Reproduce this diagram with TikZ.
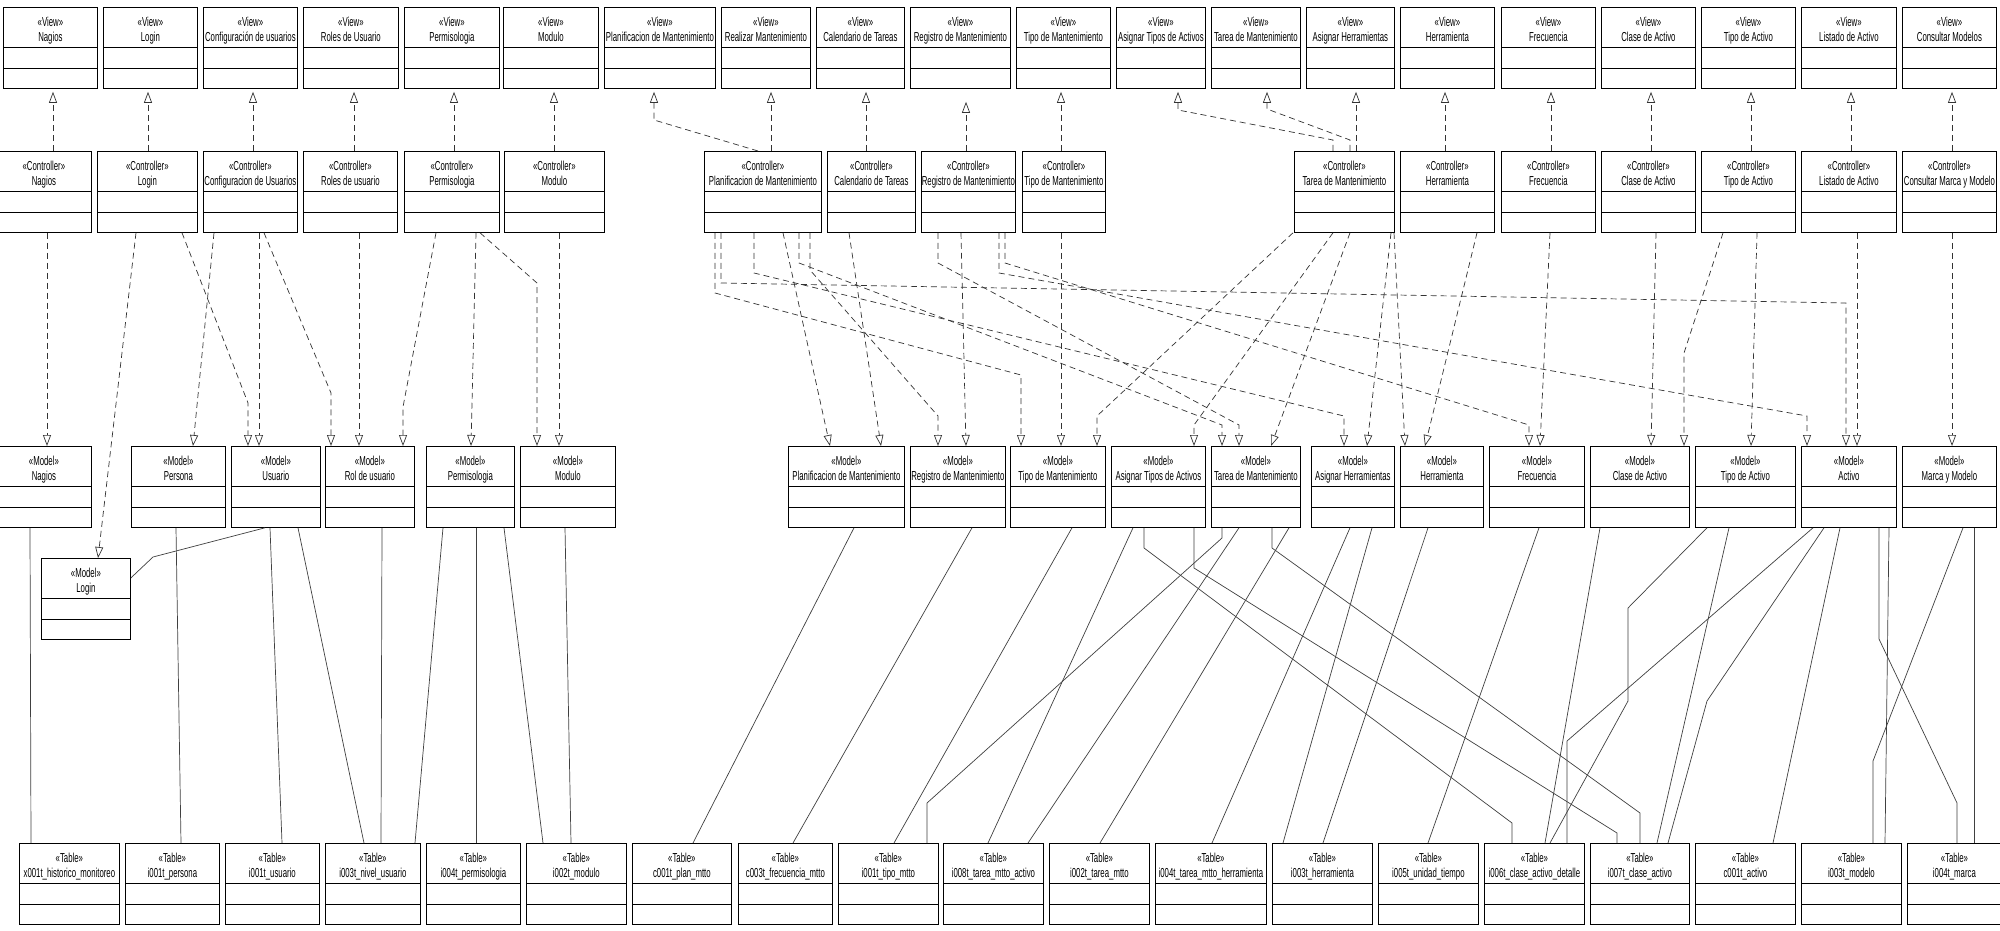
\documentclass[tikz,border=0pt]{standalone}
\usepackage{fontspec}
\setmainfont{Liberation Sans}[FakeStretch=0.6]
\usetikzlibrary{arrows.meta}

\begin{document}
\begin{tikzpicture}
		[x=1pt, y=-1pt,
		umlbox/.style={draw=black, line width=0.8pt, rectangle, anchor=north west, inner sep=0pt,
			minimum height=81pt, text height=34pt, text depth=47pt, align=center,
			font=\fontsize{13}{15}\selectfont,
			path picture={\draw[line width=0.8pt]
				([yshift=-40pt]path picture bounding box.north west) -- ([yshift=-40pt]path picture bounding box.north east)
				([yshift=-61pt]path picture bounding box.north west) -- ([yshift=-61pt]path picture bounding box.north east);}},
		realize/.style={draw=black!80, line width=0.7pt, dash pattern=on 6pt off 4pt,
			-{Triangle[fill=white, length=11pt, width=8pt]}},
		viewlink/.style={realize, shorten >=3pt},
		assoc/.style={draw=black!75, line width=0.7pt}]
		\useasboundingbox[fill=white] (0,0) rectangle (2000,931);

		% views
		\node[umlbox, minimum width=94pt] (vNagios) at (3,7) {«View»\\Nagios};
		\node[umlbox, minimum width=94pt] (vLogin) at (103,7) {«View»\\Login};
		\node[umlbox, minimum width=94pt] (vConfUsu) at (203,7) {«View»\\Configuración de usuarios};
		\node[umlbox, minimum width=95pt] (vRoles) at (303,7) {«View»\\Roles de Usuario};
		\node[umlbox, minimum width=95pt] (vPermiso) at (404,7) {«View»\\Permisologia};
		\node[umlbox, minimum width=95pt] (vModulo) at (503,7) {«View»\\Modulo};
		\node[umlbox, minimum width=111pt] (vPlanif) at (604,7) {«View»\\Planificacion de Mantenimiento};
		\node[umlbox, minimum width=89pt] (vRealizar) at (721,7) {«View»\\Realizar Mantenimiento};
		\node[umlbox, minimum width=88pt] (vCalend) at (816,7) {«View»\\Calendario de Tareas};
		\node[umlbox, minimum width=100pt] (vRegistro) at (910,7) {«View»\\Registro de Mantenimiento};
		\node[umlbox, minimum width=94pt] (vTipoMant) at (1016,7) {«View»\\Tipo de Mantenimiento};
		\node[umlbox, minimum width=89pt] (vAsigTipos) at (1116,7) {«View»\\Asignar Tipos de Activos};
		\node[umlbox, minimum width=89pt] (vTarea) at (1211,7) {«View»\\Tarea de Mantenimiento};
		\node[umlbox, minimum width=88pt] (vAsigHerr) at (1306,7) {«View»\\Asignar Herramientas};
		\node[umlbox, minimum width=94pt] (vHerram) at (1400,7) {«View»\\Herramienta};
		\node[umlbox, minimum width=94pt] (vFrecuen) at (1501,7) {«View»\\Frecuencia};
		\node[umlbox, minimum width=94pt] (vClase) at (1601,7) {«View»\\Clase de Activo};
		\node[umlbox, minimum width=94pt] (vTipoAct) at (1701,7) {«View»\\Tipo de Activo};
		\node[umlbox, minimum width=95pt] (vListado) at (1801,7) {«View»\\Listado de Activo};
		\node[umlbox, minimum width=94pt] (vConsultar) at (1902,7) {«View»\\Consultar Modelos};

		% controllers
		\node[umlbox, minimum width=95pt] (cNagios) at (-4,151) {«Controller»\\Nagios};
		\node[umlbox, minimum width=100pt] (cLogin) at (97,151) {«Controller»\\Login};
		\node[umlbox, minimum width=94pt] (cConfUsu) at (203,151) {«Controller»\\Configuracion de Usuarios};
		\node[umlbox, minimum width=94pt] (cRoles) at (303,151) {«Controller»\\Roles de usuario};
		\node[umlbox, minimum width=95pt] (cPermiso) at (404,151) {«Controller»\\Permisologia};
		\node[umlbox, minimum width=100pt] (cModulo) at (504,151) {«Controller»\\Modulo};
		\node[umlbox, minimum width=117pt] (cPlanif) at (704,151) {«Controller»\\Planificacion de Mantenimiento};
		\node[umlbox, minimum width=88pt] (cCalend) at (827,151) {«Controller»\\Calendario de Tareas};
		\node[umlbox, minimum width=94pt] (cRegistro) at (921,151) {«Controller»\\Registro de Mantenimiento};
		\node[umlbox, minimum width=83pt] (cTipoMant) at (1022,151) {«Controller»\\Tipo de Mantenimiento};
		\node[umlbox, minimum width=100pt] (cTarea) at (1294,151) {«Controller»\\Tarea de Mantenimiento};
		\node[umlbox, minimum width=94pt] (cHerram) at (1400,151) {«Controller»\\Herramienta};
		\node[umlbox, minimum width=94pt] (cFrecuen) at (1501,151) {«Controller»\\Frecuencia};
		\node[umlbox, minimum width=94pt] (cClase) at (1601,151) {«Controller»\\Clase de Activo};
		\node[umlbox, minimum width=94pt] (cTipoAct) at (1701,151) {«Controller»\\Tipo de Activo};
		\node[umlbox, minimum width=95pt] (cListado) at (1801,151) {«Controller»\\Listado de Activo};
		\node[umlbox, minimum width=94pt] (cConsultar) at (1902,151) {«Controller»\\Consultar Marca y Modelo};

		% models
		\node[umlbox, minimum width=95pt] (mNagios) at (-4,446) {«Model»\\Nagios};
		\node[umlbox, minimum width=94pt] (mPersona) at (131,446) {«Model»\\Persona};
		\node[umlbox, minimum width=89pt] (mUsuario) at (231,446) {«Model»\\Usuario};
		\node[umlbox, minimum width=89pt] (mRol) at (325,446) {«Model»\\Rol de usuario};
		\node[umlbox, minimum width=88pt] (mPermiso) at (426,446) {«Model»\\Permisologia};
		\node[umlbox, minimum width=95pt] (mModulo) at (520,446) {«Model»\\Modulo};
		\node[umlbox, minimum width=116pt] (mPlanif) at (788,446) {«Model»\\Planificacion de Mantenimiento};
		\node[umlbox, minimum width=95pt] (mRegistro) at (910,446) {«Model»\\Registro de Mantenimiento};
		\node[umlbox, minimum width=95pt] (mTipoMant) at (1010,446) {«Model»\\Tipo de Mantenimiento};
		\node[umlbox, minimum width=94pt] (mAsigTipos) at (1111,446) {«Model»\\Asignar Tipos de Activos};
		\node[umlbox, minimum width=89pt] (mTarea) at (1211,446) {«Model»\\Tarea de Mantenimiento};
		\node[umlbox, minimum width=83pt] (mAsigHerr) at (1311,446) {«Model»\\Asignar Herramientas};
		\node[umlbox, minimum width=83pt] (mHerram) at (1400,446) {«Model»\\Herramienta};
		\node[umlbox, minimum width=95pt] (mFrecuen) at (1489,446) {«Model»\\Frecuencia};
		\node[umlbox, minimum width=99pt] (mClase) at (1590,446) {«Model»\\Clase de Activo};
		\node[umlbox, minimum width=100pt] (mTipoAct) at (1695,446) {«Model»\\Tipo de Activo};
		\node[umlbox, minimum width=95pt] (mActivo) at (1801,446) {«Model»\\Activo};
		\node[umlbox, minimum width=94pt] (mMarca) at (1902,446) {«Model»\\Marca y Modelo};
		\node[umlbox, minimum width=89pt] (mLogin) at (41,558) {«Model»\\Login};

		% tables
		\node[umlbox, minimum width=100pt] (tHistorico) at (19,843) {«Table»\\x001t\_historico\_monitoreo};
		\node[umlbox, minimum width=94pt] (tPersona) at (125,843) {«Table»\\i001t\_persona};
		\node[umlbox, minimum width=94pt] (tUsuario) at (225,843) {«Table»\\i001t\_usuario};
		\node[umlbox, minimum width=95pt] (tNivel) at (325,843) {«Table»\\i003t\_nivel\_usuario};
		\node[umlbox, minimum width=94pt] (tPermiso) at (426,843) {«Table»\\i004t\_permisologia};
		\node[umlbox, minimum width=100pt] (tModulo) at (526,843) {«Table»\\i002t\_modulo};
		\node[umlbox, minimum width=99pt] (tPlan) at (632,843) {«Table»\\c001t\_plan\_mtto};
		\node[umlbox, minimum width=94pt] (tFrecMtto) at (738,843) {«Table»\\c003t\_frecuencia\_mtto};
		\node[umlbox, minimum width=100pt] (tTipoMtto) at (838,843) {«Table»\\i001t\_tipo\_mtto};
		\node[umlbox, minimum width=100pt] (tTareaAct) at (943,843) {«Table»\\i008t\_tarea\_mtto\_activo};
		\node[umlbox, minimum width=100pt] (tTarea) at (1049,843) {«Table»\\i002t\_tarea\_mtto};
		\node[umlbox, minimum width=111pt] (tTareaHerr) at (1155,843) {«Table»\\i004t\_tarea\_mtto\_herramienta};
		\node[umlbox, minimum width=100pt] (tHerram) at (1272,843) {«Table»\\i003t\_herramienta};
		\node[umlbox, minimum width=100pt] (tUnidad) at (1378,843) {«Table»\\i005t\_unidad\_tiempo};
		\node[umlbox, minimum width=100pt] (tClaseDet) at (1484,843) {«Table»\\i006t\_clase\_activo\_detalle};
		\node[umlbox, minimum width=99pt] (tClase) at (1590,843) {«Table»\\i007t\_clase\_activo};
		\node[umlbox, minimum width=100pt] (tActivo) at (1695,843) {«Table»\\c001t\_activo};
		\node[umlbox, minimum width=100pt] (tModelo) at (1801,843) {«Table»\\i003t\_modelo};
		\node[umlbox, minimum width=94pt] (tMarca) at (1907,843) {«Table»\\i004t\_marca};

		% controller to view
		\draw[viewlink] (cNagios.north -| 53,0) -- (vNagios.south -| 53,0);
		\draw[viewlink] (cLogin.north -| 148,0) -- (vLogin.south -| 148,0);
		\draw[viewlink] (cConfUsu.north -| 253,0) -- (vConfUsu.south -| 253,0);
		\draw[viewlink] (cRoles.north -| 354,0) -- (vRoles.south -| 354,0);
		\draw[viewlink] (cPermiso.north -| 454,0) -- (vPermiso.south -| 454,0);
		\draw[viewlink] (cModulo.north -| 554,0) -- (vModulo.south -| 554,0);
		\draw[viewlink] (cPlanif.north -| 758,0) -- (654,120) -- (vPlanif.south -| 654,0);
		\draw[viewlink] (cPlanif.north -| 771,0) -- (vRealizar.south -| 771,0);
		\draw[viewlink] (cCalend.north -| 866,0) -- (vCalend.south -| 866,0);
		\draw[realize, shorten >=13pt] (cRegistro.north -| 966,0) -- (vRegistro.south -| 966,0);
		\draw[viewlink] (cTipoMant.north -| 1061,0) -- (vTipoMant.south -| 1061,0);
		\draw[viewlink] (cTarea.north -| 1333,0) -- (1333,140) -- (1178,110) -- (vAsigTipos.south -| 1178,0);
		\draw[viewlink] (cTarea.north -| 1350,0) -- (1350,140) -- (1267,109) -- (vTarea.south -| 1267,0);
		\draw[viewlink] (cTarea.north -| 1356,0) -- (vAsigHerr.south -| 1356,0);
		\draw[viewlink] (cHerram.north -| 1445,0) -- (vHerram.south -| 1445,0);
		\draw[viewlink] (cFrecuen.north -| 1551,0) -- (vFrecuen.south -| 1551,0);
		\draw[viewlink] (cClase.north -| 1651,0) -- (vClase.south -| 1651,0);
		\draw[viewlink] (cTipoAct.north -| 1751,0) -- (vTipoAct.south -| 1751,0);
		\draw[viewlink] (cListado.north -| 1851,0) -- (vListado.south -| 1851,0);
		\draw[viewlink] (cConsultar.north -| 1952,0) -- (vConsultar.south -| 1952,0);

		% controller to model
		\draw[realize] (cNagios.south -| 47,0) -- (mNagios.north -| 47,0);
		\draw[realize] (cLogin.south -| 136,0) -- (mLogin.north -| 98,0);
		\draw[realize] (cLogin.south -| 182,0) -- (248,403) -- (mUsuario.north -| 248,0);
		\draw[realize] (cConfUsu.south -| 214,0) -- (mPersona.north -| 193,0);
		\draw[realize] (cConfUsu.south -| 259,0) -- (mUsuario.north -| 259,0);
		\draw[realize] (cConfUsu.south -| 264,0) -- (331,393) -- (mRol.north -| 331,0);
		\draw[realize] (cRoles.south -| 359,0) -- (mRol.north -| 359,0);
		\draw[realize] (cPermiso.south -| 436,0) -- (403,407) -- (mRol.north -| 403,0);
		\draw[realize] (cPermiso.south -| 476,0) -- (mPermiso.north -| 471,0);
		\draw[realize] (cPermiso.south -| 480,0) -- (537,283) -- (mModulo.north -| 537,0);
		\draw[realize] (cModulo.south -| 559,0) -- (mModulo.north -| 559,0);

		\draw[realize] (cPlanif.south -| 715,0) -- (715,293) -- (1021,375) -- (mTipoMant.north -| 1021,0);
		\draw[realize] (cPlanif.south -| 721,0) -- (721,283) -- (1846,303) -- (mActivo.north -| 1846,0);
		\draw[realize] (cPlanif.south -| 754,0) -- (754,273) -- (1344,416) -- (mAsigHerr.north -| 1344,0);
		\draw[realize] (cPlanif.south -| 783,0) -- (mPlanif.north -| 830,0);
		\draw[realize] (cPlanif.south -| 799,0) -- (799,263) -- (1222,425) -- (mTarea.north -| 1222,0);
		\draw[realize] (cPlanif.south -| 810,0) -- (810,270) -- (938,416) -- (mRegistro.north -| 938,0);
		\draw[realize] (cCalend.south -| 849,0) -- (mPlanif.north -| 881,0);
		\draw[realize] (cRegistro.south -| 938,0) -- (938,263) -- (1239,425) -- (mTarea.north -| 1239,0);
		\draw[realize] (cRegistro.south -| 961,0) -- (mRegistro.north -| 966,0);
		\draw[realize] (cRegistro.south -| 999,0) -- (999,273) -- (1807,416) -- (mActivo.north -| 1807,0);
		\draw[realize] (cRegistro.south -| 1005,0) -- (1005,263) -- (1529,425) -- (mFrecuen.north -| 1529,0);
		\draw[realize] (cTipoMant.south -| 1061,0) -- (mTipoMant.north -| 1061,0);

		\draw[realize] (cTarea.south -| 1293,0) -- (1097,416) -- (mTipoMant.north -| 1097,0);
		\draw[realize] (cTarea.south -| 1333,0) -- (1194,425) -- (mAsigTipos.north -| 1194,0);
		\draw[realize] (cTarea.south -| 1350,0) -- (mTarea.north -| 1271,0);
		\draw[realize] (cTarea.south -| 1391,0) -- (mAsigHerr.north -| 1367,0);
		\draw[realize] (cTarea.south -| 1394,0) -- (mHerram.north -| 1405,0);
		\draw[realize] (cHerram.south -| 1477,0) -- (mHerram.north -| 1425,0);
		\draw[realize] (cFrecuen.south -| 1550,0) -- (mFrecuen.north -| 1540,0);
		\draw[realize] (cClase.south -| 1656,0) -- (mClase.north -| 1651,0);
		\draw[realize] (cTipoAct.south -| 1723,0) -- (1684,353) -- (mClase.north -| 1684,0);
		\draw[realize] (cTipoAct.south -| 1757,0) -- (mTipoAct.north -| 1751,0);
		\draw[realize] (cListado.south -| 1857,0) -- (mActivo.north -| 1857,0);
		\draw[realize] (cConsultar.south -| 1952,0) -- (mMarca.north -| 1952,0);

		% model to table
		\draw[assoc] (mNagios.south -| 30,0) -- (tHistorico.north -| 31,0);
		\draw[assoc] (mPersona.south -| 176,0) -- (tPersona.north -| 181,0);
		\draw[assoc] (mUsuario.south -| 265,0) -- (153,557) -- (mLogin.east |- 0,578);
		\draw[assoc] (mUsuario.south -| 270,0) -- (tUsuario.north -| 282,0);
		\draw[assoc] (mUsuario.south -| 298,0) -- (tNivel.north -| 364,0);
		\draw[assoc] (mRol.south -| 382,0) -- (tNivel.north -| 381,0);
		\draw[assoc] (mPermiso.south -| 443,0) -- (tNivel.north -| 415,0);
		\draw[assoc] (mPermiso.south -| 476,0) -- (tPermiso.north -| 476,0);
		\draw[assoc] (mPermiso.south -| 504,0) -- (tModulo.north -| 543,0);
		\draw[assoc] (mModulo.south -| 565,0) -- (tModulo.north -| 571,0);

		\draw[assoc] (mPlanif.south -| 854,0) -- (tPlan.north -| 693,0);
		\draw[assoc] (mRegistro.south -| 972,0) -- (tFrecMtto.north -| 793,0);
		\draw[assoc] (mTipoMant.south -| 1072,0) -- (tTipoMtto.north -| 894,0);
		\draw[assoc] (mAsigTipos.south -| 1133,0) -- (tTareaAct.north -| 988,0);
		\draw[assoc] (mAsigTipos.south -| 1144,0) -- (1144,548) -- (1512,823) -- (tClaseDet.north -| 1512,0);
		\draw[assoc] (mAsigTipos.south -| 1194,0) -- (1194,568) -- (1617,833) -- (tClase.north -| 1617,0);
		\draw[assoc] (mTarea.south -| 1222,0) -- (1222,538) -- (927,803) -- (tTipoMtto.north -| 927,0);
		\draw[assoc] (mTarea.south -| 1239,0) -- (tTareaAct.north -| 1028,0);
		\draw[assoc] (mTarea.south -| 1272,0) -- (1272,548) -- (1640,813) -- (tClase.north -| 1640,0);
		\draw[assoc] (mTarea.south -| 1289,0) -- (tTarea.north -| 1100,0);
		\draw[assoc] (mAsigHerr.south -| 1350,0) -- (tTareaHerr.north -| 1212,0);
		\draw[assoc] (mAsigHerr.south -| 1372,0) -- (tHerram.north -| 1283,0);
		\draw[assoc] (mHerram.south -| 1428,0) -- (tHerram.north -| 1323,0);
		\draw[assoc] (mFrecuen.south -| 1539,0) -- (tUnidad.north -| 1428,0);

		\draw[assoc] (mClase.south -| 1600,0) -- (tClaseDet.north -| 1545,0);
		\draw[assoc] (mTipoAct.south -| 1707,0) -- (1628,608) -- (1628,701) -- (tClaseDet.north -| 1550,0);
		\draw[assoc] (mTipoAct.south -| 1729,0) -- (tClase.north -| 1657,0);
		\draw[assoc] (mActivo.south -| 1813,0) -- (1567,741) -- (tClaseDet.north -| 1567,0);
		\draw[assoc] (mActivo.south -| 1824,0) -- (1707,701) -- (tClase.north -| 1668,0);
		\draw[assoc] (mActivo.south -| 1840,0) -- (tActivo.north -| 1773,0);
		\draw[assoc] (mActivo.south -| 1879,0) -- (1879,639) -- (1957,803) -- (tMarca.north -| 1957,0);
		\draw[assoc] (mActivo.south -| 1889,0) -- (tModelo.north -| 1885,0);
		\draw[assoc] (mMarca.south -| 1963,0) -- (1873,761) -- (tModelo.north -| 1873,0);
		\draw[assoc] (mMarca.south -| 1974,0) -- (tMarca.north -| 1974,0);
	\end{tikzpicture}
\end{document}
